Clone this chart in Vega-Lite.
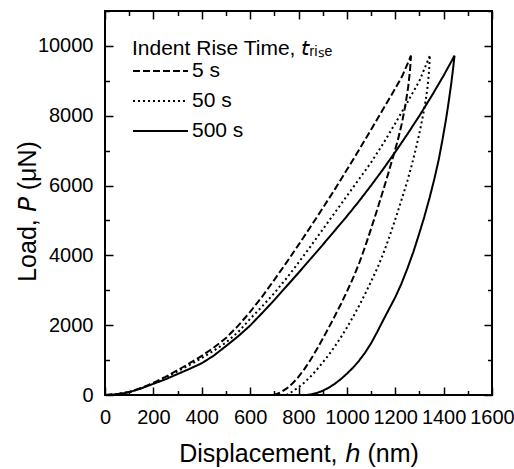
{
  "$schema": "https://vega.github.io/schema/vega-lite/v6.json",
  "width": 387,
  "height": 384,
  "autosize": {"type": "none"},
  "padding": {"left": 105, "top": 11, "right": 22, "bottom": 74},
  "background": "white",
  "config": {
    "view": {"stroke": "black", "strokeWidth": 2},
    "font": "Liberation Sans",
    "axis": {
      "domain": false, "tickColor": "black", "tickWidth": 1.5,
      "labelColor": "black", "titleColor": "black", "grid": false,
      "labelFont": "Liberation Sans", "titleFont": "Liberation Sans",
      "labelFontSize": 20, "titleFontSize": 25, "titleFontWeight": "normal",
      "labelFlush": false, "labelOverlap": false, "labelBound": false
    },
    "legend": {
      "labelFont": "Liberation Sans", "titleFont": "Liberation Sans",
      "labelColor": "black", "titleColor": "black"
    }
  },
  "data": {"values": [
    {"s":"5 s","b":"L","h":0,"P":0},{"s":"5 s","b":"L","h":50,"P":25},{"s":"5 s","b":"L","h":100,"P":90},{"s":"5 s","b":"L","h":150,"P":200},{"s":"5 s","b":"L","h":200,"P":350},{"s":"5 s","b":"L","h":250,"P":520},{"s":"5 s","b":"L","h":300,"P":710},{"s":"5 s","b":"L","h":350,"P":910},{"s":"5 s","b":"L","h":400,"P":1120},{"s":"5 s","b":"L","h":450,"P":1360},{"s":"5 s","b":"L","h":500,"P":1630},{"s":"5 s","b":"L","h":550,"P":1980},{"s":"5 s","b":"L","h":600,"P":2380},{"s":"5 s","b":"L","h":650,"P":2820},{"s":"5 s","b":"L","h":700,"P":3300},{"s":"5 s","b":"L","h":750,"P":3790},{"s":"5 s","b":"L","h":800,"P":4300},{"s":"5 s","b":"L","h":850,"P":4820},{"s":"5 s","b":"L","h":900,"P":5350},{"s":"5 s","b":"L","h":950,"P":5890},{"s":"5 s","b":"L","h":1000,"P":6450},{"s":"5 s","b":"L","h":1050,"P":7020},{"s":"5 s","b":"L","h":1100,"P":7600},{"s":"5 s","b":"L","h":1150,"P":8190},{"s":"5 s","b":"L","h":1200,"P":8780},{"s":"5 s","b":"L","h":1230,"P":9150},{"s":"5 s","b":"L","h":1265,"P":9720},
    {"s":"50 s","b":"L","h":0,"P":0},{"s":"50 s","b":"L","h":50,"P":22},{"s":"50 s","b":"L","h":100,"P":85},{"s":"50 s","b":"L","h":150,"P":195},{"s":"50 s","b":"L","h":200,"P":340},{"s":"50 s","b":"L","h":250,"P":500},{"s":"50 s","b":"L","h":300,"P":680},{"s":"50 s","b":"L","h":350,"P":860},{"s":"50 s","b":"L","h":400,"P":1060},{"s":"50 s","b":"L","h":450,"P":1270},{"s":"50 s","b":"L","h":500,"P":1500},{"s":"50 s","b":"L","h":550,"P":1800},{"s":"50 s","b":"L","h":600,"P":2180},{"s":"50 s","b":"L","h":650,"P":2540},{"s":"50 s","b":"L","h":700,"P":2920},{"s":"50 s","b":"L","h":750,"P":3340},{"s":"50 s","b":"L","h":800,"P":3790},{"s":"50 s","b":"L","h":850,"P":4260},{"s":"50 s","b":"L","h":900,"P":4740},{"s":"50 s","b":"L","h":950,"P":5220},{"s":"50 s","b":"L","h":1000,"P":5700},{"s":"50 s","b":"L","h":1050,"P":6180},{"s":"50 s","b":"L","h":1100,"P":6660},{"s":"50 s","b":"L","h":1150,"P":7200},{"s":"50 s","b":"L","h":1200,"P":7780},{"s":"50 s","b":"L","h":1250,"P":8380},{"s":"50 s","b":"L","h":1300,"P":9000},{"s":"50 s","b":"L","h":1343,"P":9720},
    {"s":"500 s","b":"L","h":0,"P":0},{"s":"500 s","b":"L","h":50,"P":20},{"s":"500 s","b":"L","h":100,"P":80},{"s":"500 s","b":"L","h":150,"P":190},{"s":"500 s","b":"L","h":200,"P":320},{"s":"500 s","b":"L","h":250,"P":450},{"s":"500 s","b":"L","h":300,"P":600},{"s":"500 s","b":"L","h":350,"P":750},{"s":"500 s","b":"L","h":400,"P":910},{"s":"500 s","b":"L","h":450,"P":1130},{"s":"500 s","b":"L","h":500,"P":1400},{"s":"500 s","b":"L","h":550,"P":1680},{"s":"500 s","b":"L","h":600,"P":1990},{"s":"500 s","b":"L","h":650,"P":2350},{"s":"500 s","b":"L","h":700,"P":2720},{"s":"500 s","b":"L","h":750,"P":3110},{"s":"500 s","b":"L","h":800,"P":3500},{"s":"500 s","b":"L","h":850,"P":3900},{"s":"500 s","b":"L","h":900,"P":4300},{"s":"500 s","b":"L","h":950,"P":4710},{"s":"500 s","b":"L","h":1000,"P":5120},{"s":"500 s","b":"L","h":1050,"P":5550},{"s":"500 s","b":"L","h":1100,"P":6000},{"s":"500 s","b":"L","h":1150,"P":6470},{"s":"500 s","b":"L","h":1200,"P":6960},{"s":"500 s","b":"L","h":1250,"P":7470},{"s":"500 s","b":"L","h":1300,"P":8000},{"s":"500 s","b":"L","h":1350,"P":8560},{"s":"500 s","b":"L","h":1400,"P":9150},{"s":"500 s","b":"L","h":1445,"P":9720},
    {"s":"5 s","b":"U","h":1265,"P":9720},{"s":"5 s","b":"U","h":1261,"P":9300},{"s":"5 s","b":"U","h":1254,"P":8850},{"s":"5 s","b":"U","h":1243,"P":8350},{"s":"5 s","b":"U","h":1228,"P":7800},{"s":"5 s","b":"U","h":1210,"P":7280},{"s":"5 s","b":"U","h":1190,"P":6800},{"s":"5 s","b":"U","h":1170,"P":6320},{"s":"5 s","b":"U","h":1150,"P":5860},{"s":"5 s","b":"U","h":1125,"P":5300},{"s":"5 s","b":"U","h":1100,"P":4760},{"s":"5 s","b":"U","h":1075,"P":4240},{"s":"5 s","b":"U","h":1050,"P":3760},{"s":"5 s","b":"U","h":1025,"P":3340},{"s":"5 s","b":"U","h":1000,"P":2960},{"s":"5 s","b":"U","h":975,"P":2600},{"s":"5 s","b":"U","h":950,"P":2260},{"s":"5 s","b":"U","h":925,"P":1930},{"s":"5 s","b":"U","h":900,"P":1610},{"s":"5 s","b":"U","h":875,"P":1300},{"s":"5 s","b":"U","h":850,"P":1010},{"s":"5 s","b":"U","h":825,"P":750},{"s":"5 s","b":"U","h":800,"P":520},{"s":"5 s","b":"U","h":775,"P":330},{"s":"5 s","b":"U","h":750,"P":180},{"s":"5 s","b":"U","h":725,"P":70},{"s":"5 s","b":"U","h":705,"P":15},{"s":"5 s","b":"U","h":696,"P":0},
    {"s":"50 s","b":"U","h":1343,"P":9720},{"s":"50 s","b":"U","h":1340,"P":9300},{"s":"50 s","b":"U","h":1334,"P":8850},{"s":"50 s","b":"U","h":1325,"P":8400},{"s":"50 s","b":"U","h":1313,"P":7950},{"s":"50 s","b":"U","h":1300,"P":7500},{"s":"50 s","b":"U","h":1285,"P":7050},{"s":"50 s","b":"U","h":1268,"P":6580},{"s":"50 s","b":"U","h":1250,"P":6130},{"s":"50 s","b":"U","h":1230,"P":5680},{"s":"50 s","b":"U","h":1210,"P":5240},{"s":"50 s","b":"U","h":1190,"P":4820},{"s":"50 s","b":"U","h":1170,"P":4420},{"s":"50 s","b":"U","h":1150,"P":4040},{"s":"50 s","b":"U","h":1125,"P":3620},{"s":"50 s","b":"U","h":1100,"P":3250},{"s":"50 s","b":"U","h":1075,"P":2890},{"s":"50 s","b":"U","h":1050,"P":2550},{"s":"50 s","b":"U","h":1025,"P":2230},{"s":"50 s","b":"U","h":1000,"P":1930},{"s":"50 s","b":"U","h":975,"P":1650},{"s":"50 s","b":"U","h":950,"P":1390},{"s":"50 s","b":"U","h":925,"P":1150},{"s":"50 s","b":"U","h":900,"P":930},{"s":"50 s","b":"U","h":875,"P":720},{"s":"50 s","b":"U","h":850,"P":530},{"s":"50 s","b":"U","h":825,"P":360},{"s":"50 s","b":"U","h":800,"P":220},{"s":"50 s","b":"U","h":775,"P":100},{"s":"50 s","b":"U","h":760,"P":40},{"s":"50 s","b":"U","h":750,"P":0},
    {"s":"500 s","b":"U","h":1445,"P":9720},{"s":"500 s","b":"U","h":1440,"P":9400},{"s":"500 s","b":"U","h":1432,"P":8950},{"s":"500 s","b":"U","h":1422,"P":8450},{"s":"500 s","b":"U","h":1410,"P":7900},{"s":"500 s","b":"U","h":1395,"P":7300},{"s":"500 s","b":"U","h":1380,"P":6750},{"s":"500 s","b":"U","h":1362,"P":6200},{"s":"500 s","b":"U","h":1342,"P":5650},{"s":"500 s","b":"U","h":1320,"P":5100},{"s":"500 s","b":"U","h":1298,"P":4600},{"s":"500 s","b":"U","h":1275,"P":4100},{"s":"500 s","b":"U","h":1250,"P":3620},{"s":"500 s","b":"U","h":1225,"P":3180},{"s":"500 s","b":"U","h":1200,"P":2800},{"s":"500 s","b":"U","h":1175,"P":2470},{"s":"500 s","b":"U","h":1150,"P":2140},{"s":"500 s","b":"U","h":1125,"P":1800},{"s":"500 s","b":"U","h":1100,"P":1480},{"s":"500 s","b":"U","h":1075,"P":1210},{"s":"500 s","b":"U","h":1050,"P":980},{"s":"500 s","b":"U","h":1025,"P":780},{"s":"500 s","b":"U","h":1000,"P":610},{"s":"500 s","b":"U","h":975,"P":455},{"s":"500 s","b":"U","h":950,"P":320},{"s":"500 s","b":"U","h":925,"P":210},{"s":"500 s","b":"U","h":900,"P":120},{"s":"500 s","b":"U","h":875,"P":55},{"s":"500 s","b":"U","h":850,"P":15},{"s":"500 s","b":"U","h":830,"P":0}
  ]},
  "encoding": {
    "strokeDash": {"field": "s", "type": "nominal",
      "scale": {"domain": ["5 s", "50 s", "500 s"], "range": [[7, 3], [2, 3], [1, 0]]},
      "legend": {"orient": "none", "legendX": 27, "legendY": 27, "title": "Indent Rise Time, 𝘵ᵣᵢₛₑ",
        "symbolType": "M-1,0H4", "symbolSize": 484, "symbolStrokeColor": "black",
        "labelFontSize": 21, "titleFontSize": 21, "titleFontWeight": "normal", "titleLimit": 400,
        "titlePadding": 0, "rowPadding": 8, "labelOffset": 36, "padding": 0}},
    "strokeWidth": {"field": "s", "type": "nominal",
      "scale": {"domain": ["5 s", "50 s", "500 s"], "range": [2, 2, 1.3]},
      "legend": {"orient": "none", "legendX": 27, "legendY": 27, "title": "Indent Rise Time, 𝘵ᵣᵢₛₑ",
        "symbolType": "M-1,0H4", "symbolSize": 484, "symbolStrokeColor": "black",
        "labelFontSize": 21, "titleFontSize": 21, "titleFontWeight": "normal", "titleLimit": 400,
        "titlePadding": 0, "rowPadding": 8, "labelOffset": 36, "padding": 0}}
  },
  "layer": [
    {
      "transform": [{"filter": "datum.b === 'L' && datum.s === '5 s'"}],
      "mark": {"type": "line", "color": "black"},
      "encoding": {
        "x": {"field": "h", "type": "quantitative", "scale": {"domain": [0, 1600], "nice": false},
          "axis": {"orient": "bottom", "offset": -8, "tickSize": 8, "title": "Displacement, 𝘩 (nm)",
            "values": [0,200,400,600,800,1000,1200,1400,1600], "format": "d",
            "labelPadding": 12, "titleBaseline": "alphabetic", "titleY": 74.5, "titleX": 193.5}},
        "y": {"field": "P", "type": "quantitative", "scale": {"domain": [0, 11000], "nice": false},
          "axis": {"orient": "left", "offset": -8, "tickSize": 8, "title": "Load, 𝘗 (μN)",
            "values": [0,2000,4000,6000,8000,10000], "format": "d",
            "labelPadding": 12, "titleBaseline": "alphabetic", "titleX": -78, "titleY": 200, "titleAngle": 270}}
      }
    },
    {
      "transform": [{"filter": "datum.b === 'L' && datum.s === '50 s'"}],
      "mark": {"type": "line", "color": "black"},
      "encoding": {
        "x": {"field": "h", "type": "quantitative",
          "axis": {"orient": "bottom", "offset": -4.5, "tickSize": 4.5, "labels": false, "title": null,
            "values": [100,300,500,700,900,1100,1300,1500]}},
        "y": {"field": "P", "type": "quantitative",
          "axis": {"orient": "left", "offset": -4.5, "tickSize": 4.5, "labels": false, "title": null,
            "values": [1000,3000,5000,7000,9000,11000]}}
      }
    },
    {
      "transform": [{"filter": "datum.b === 'L' && datum.s === '500 s'"}],
      "mark": {"type": "line", "color": "black"},
      "encoding": {
        "x": {"field": "h", "type": "quantitative",
          "axis": {"orient": "top", "offset": -8, "tickSize": 8, "labels": false, "title": null,
            "values": [0,200,400,600,800,1000,1200,1400,1600]}},
        "y": {"field": "P", "type": "quantitative",
          "axis": {"orient": "right", "offset": -8, "tickSize": 8, "labels": false, "title": null,
            "values": [0,2000,4000,6000,8000,10000]}}
      }
    },
    {
      "transform": [{"filter": "datum.b === 'U'"}],
      "mark": {"type": "line", "color": "black"},
      "encoding": {
        "x": {"field": "h", "type": "quantitative",
          "axis": {"orient": "top", "offset": -4.5, "tickSize": 4.5, "labels": false, "title": null,
            "values": [100,300,500,700,900,1100,1300,1500]}},
        "y": {"field": "P", "type": "quantitative",
          "axis": {"orient": "right", "offset": -4.5, "tickSize": 4.5, "labels": false, "title": null,
            "values": [1000,3000,5000,7000,9000,11000]}}
      }
    }
  ],
  "resolve": {"axis": {"x": "independent", "y": "independent"}}
}
